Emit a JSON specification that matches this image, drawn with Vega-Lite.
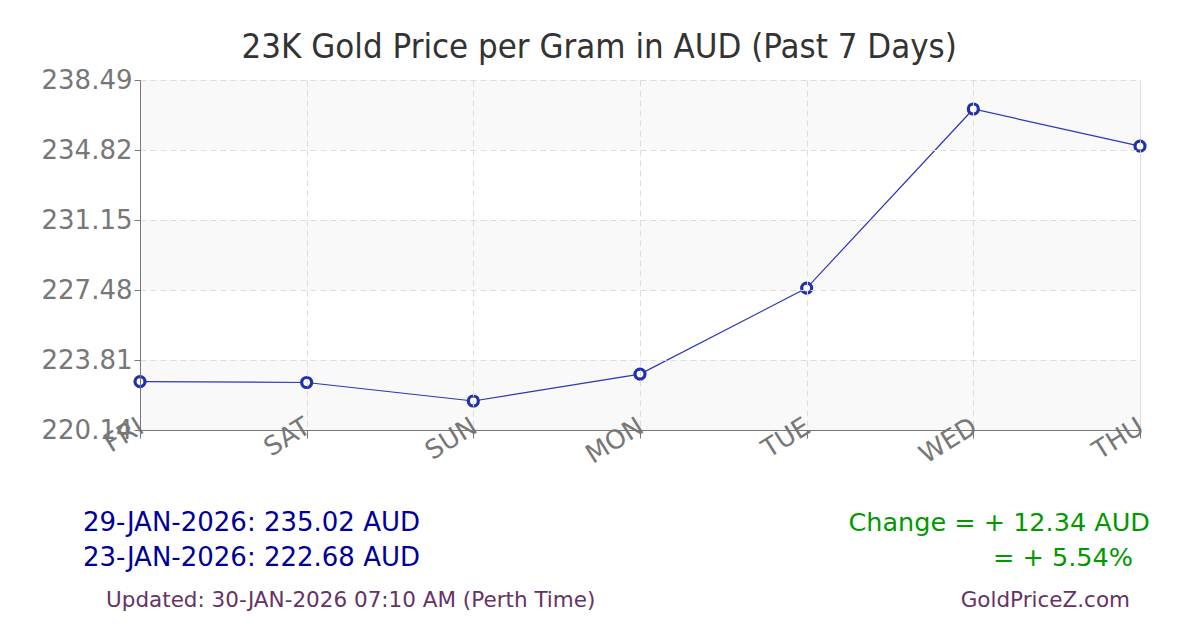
{
  "$schema": "https://vega.github.io/schema/vega-lite/v6.json",
  "background": "white",
  "padding": {"left": 40, "top": 30, "right": 10, "bottom": 0},
  "autosize": {"type": "pad"},
  "config": {"font": "DejaVu Sans", "concat": {"spacing": 20}},
  "title": {"text": "23K Gold Price per Gram in AUD (Past 7 Days)", "fontSize": 34.5, "font": "DejaVu Sans Condensed", "fontWeight": "normal", "color": "#333333", "anchor": "middle", "offset": 1, "dx": -46},
  "datasets": {
    "prices": [
      {"day": "FRI", "price": 222.68},
      {"day": "SAT", "price": 222.63},
      {"day": "SUN", "price": 221.66},
      {"day": "MON", "price": 223.07},
      {"day": "TUE", "price": 227.58},
      {"day": "WED", "price": 236.97},
      {"day": "THU", "price": 235.02}
    ],
    "bands": [
      {"lo": 234.82, "hi": 238.49},
      {"lo": 227.48, "hi": 231.15},
      {"lo": 220.14, "hi": 223.81}
    ],
    "notes": [
      {"side": "left", "line": 1, "kind": "price", "text": "29-JAN-2026: 235.02 AUD"},
      {"side": "left", "line": 2, "kind": "price", "text": "23-JAN-2026: 222.68 AUD"},
      {"side": "left", "line": 3, "kind": "footer", "text": "Updated: 30-JAN-2026 07:10 AM (Perth Time)"},
      {"side": "right", "line": 1, "kind": "change", "text": "Change = + 12.34 AUD"},
      {"side": "right", "line": 2, "kind": "pct", "text": "= + 5.54%"},
      {"side": "right", "line": 3, "kind": "footer", "text": "GoldPriceZ.com"}
    ]
  },
  "vconcat": [
    {
      "width": 1000,
      "height": 350,
      "view": {"stroke": "#dddddd", "strokeWidth": 1},
      "layer": [
        {
          "data": {"name": "bands"},
          "mark": {"type": "rect", "color": "#f9f9f9"},
          "encoding": {
            "y": {"field": "lo", "type": "quantitative", "scale": {"domain": [220.14, 238.49], "nice": false, "zero": false},
              "axis": {"title": null, "values": [220.14, 223.81, 227.48, 231.15, 234.82, 238.49], "format": ".2f", "labelFontSize": 26, "labelColor": "#777777", "labelPadding": 2, "domainColor": "#777777", "tickColor": "#777777", "tickSize": 6, "gridColor": "#dddddd", "gridDash": [6, 4], "grid": true, "zindex": 1}},
            "y2": {"field": "hi"}
          }
        },
        {
          "data": {"name": "prices"},
          "mark": {"type": "line", "color": "#2b36b8", "strokeWidth": 1.2},
          "encoding": {
            "x": {"field": "day", "type": "ordinal", "sort": null, "scale": {"type": "point", "padding": 0},
              "axis": {"title": null, "labelAngle": -32, "labelAlign": "right", "labelBaseline": "top", "labelFontSize": 26, "labelColor": "#777777", "labelPadding": -25, "labelOffset": -6, "domainColor": "#777777", "tickColor": "#777777", "tickSize": 8, "gridColor": "#dddddd", "gridDash": [6, 4], "grid": true, "zindex": 1}},
            "y": {"field": "price", "type": "quantitative", "scale": {"domain": [220.14, 238.49], "nice": false, "zero": false},
              "axis": {"title": null, "values": [220.14, 223.81, 227.48, 231.15, 234.82, 238.49], "format": ".2f", "labelFontSize": 26, "labelColor": "#777777", "labelPadding": 2, "domainColor": "#777777", "tickColor": "#777777", "tickSize": 6, "gridColor": "#dddddd", "gridDash": [6, 4], "grid": true, "zindex": 1}}
          }
        },
        {
          "data": {"name": "prices"},
          "mark": {"type": "point", "filled": false, "fill": "white", "color": "#2230aa", "strokeWidth": 3.2, "size": 100, "opacity": 1},
          "encoding": {
            "x": {"field": "day", "type": "ordinal", "sort": null},
            "y": {"field": "price", "type": "quantitative"}
          }
        }
      ]
    },
    {
      "width": 1110,
      "height": 110,
      "view": {"stroke": null},
      "data": {"name": "notes"},
      "encoding": {
        "x": {"field": "side", "type": "nominal", "scale": {"type": "point", "domain": ["left", "right"], "range": [-57, 1010], "padding": 0}, "axis": null},
        "y": {"field": "line", "type": "quantitative", "scale": {"domain": [1, 3], "range": [34, 104]}, "axis": null},
        "text": {"field": "text"}
      },
      "layer": [
        {"transform": [{"filter": "datum.kind === 'price'"}], "mark": {"type": "text", "align": "left", "baseline": "middle", "fontSize": 26, "color": "#000099"}},
        {"transform": [{"filter": "datum.kind === 'change'"}], "mark": {"type": "text", "align": "right", "baseline": "middle", "fontSize": 25.5, "color": "#009900"}},
        {"transform": [{"filter": "datum.kind === 'pct'"}], "mark": {"type": "text", "align": "right", "baseline": "middle", "fontSize": 25.5, "color": "#009900", "dx": -17}},
        {"transform": [{"filter": "datum.kind === 'footer' && datum.side === 'left'"}], "mark": {"type": "text", "align": "left", "baseline": "middle", "fontSize": 21.5, "color": "#663366", "dx": 23, "dy": 8}},
        {"transform": [{"filter": "datum.kind === 'footer' && datum.side === 'right'"}], "mark": {"type": "text", "align": "right", "baseline": "middle", "fontSize": 21.5, "color": "#663366", "dx": -20, "dy": 8}}
      ]
    }
  ]
}
